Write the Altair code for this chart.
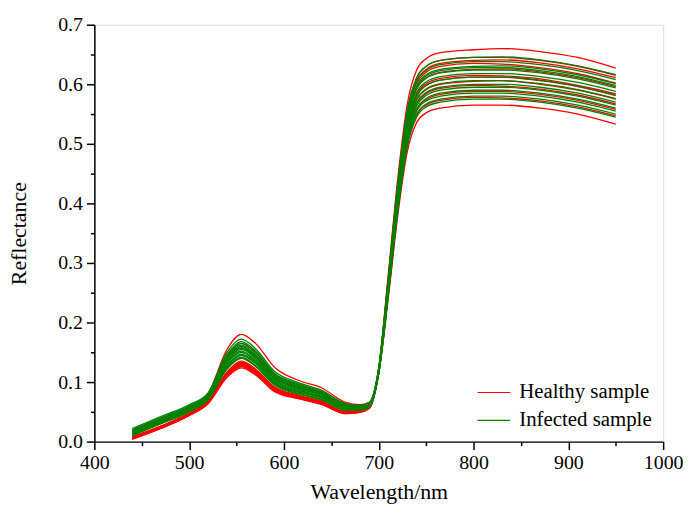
import altair as alt
import pandas as pd

wavelength = [440, 470, 500, 520, 540, 555, 570, 590, 615, 640, 665, 680, 690,
              700, 710, 720, 730, 740, 750, 765, 800, 830, 870, 910, 950]

healthy_curves = [
    [.012, .032, .055, .080, .155, .180, .165, .125, .103, .090, .066, .062, .066,
     .125, .280, .441, .566, .624, .643, .653, .658, .660, .655, .645, .627],
    [.011, .030, .052, .076, .143, .165, .150, .113, .095, .082, .061, .059, .064,
     .115, .240, .379, .486, .536, .552, .560, .565, .565, .560, .550, .533],
    [.008, .026, .047, .068, .117, .135, .122, .092, .078, .068, .051, .052, .058,
     .122, .274, .432, .555, .611, .630, .640, .645, .645, .640, .630, .615],
    [.006, .024, .046, .066, .114, .132, .119, .090, .076, .066, .050, .051, .057,
     .120, .270, .425, .546, .602, .620, .630, .635, .634, .628, .618, .602],
    [.007, .025, .047, .067, .113, .130, .117, .088, .075, .065, .049, .051, .058,
     .121, .266, .419, .538, .593, .611, .620, .625, .626, .621, .611, .596],
    [.005, .023, .045, .065, .111, .128, .115, .087, .074, .064, .048, .050, .056,
     .118, .261, .412, .529, .583, .601, .610, .615, .614, .609, .598, .584],
    [.006, .024, .046, .066, .110, .127, .114, .086, .073, .064, .048, .050, .057,
     .119, .257, .405, .520, .574, .591, .600, .605, .606, .600, .590, .575],
    [.008, .026, .048, .068, .116, .133, .120, .090, .077, .067, .050, .052, .059,
     .117, .254, .401, .514, .567, .584, .593, .598, .597, .592, .582, .567],
    [.004, .022, .044, .064, .112, .129, .116, .088, .075, .065, .049, .050, .056,
     .116, .250, .394, .506, .557, .574, .583, .588, .588, .583, .573, .558],
    [.005, .023, .045, .065, .109, .126, .113, .086, .073, .063, .047, .049, .057,
     .115, .246, .387, .497, .548, .565, .573, .578, .577, .572, .562, .547],
    [.007, .025, .046, .067, .114, .131, .118, .089, .076, .066, .050, .051, .058,
     .121, .272, .429, .550, .607, .625, .635, .640, .641, .636, .626, .611],
    [.004, .022, .044, .064, .108, .124, .112, .084, .072, .062, .047, .049, .056,
     .118, .260, .410, .526, .580, .598, .607, .612, .612, .606, .596, .581],
]

infected_curves = [
    [.022, .042, .062, .082, .150, .172, .156, .118, .099, .086, .064, .061, .066,
     .124, .274, .432, .555, .611, .630, .640, .645, .646, .641, .631, .616],
    [.020, .040, .060, .080, .146, .168, .152, .115, .097, .084, .063, .060, .065,
     .123, .271, .427, .549, .605, .623, .633, .638, .638, .633, .623, .608],
    [.019, .039, .059, .079, .144, .165, .149, .113, .095, .083, .062, .059, .064,
     .122, .268, .422, .542, .597, .616, .625, .630, .631, .626, .616, .601],
    [.018, .038, .058, .078, .141, .162, .146, .111, .093, .081, .061, .058, .063,
     .121, .265, .418, .537, .592, .610, .619, .624, .624, .619, .609, .594],
    [.017, .037, .057, .077, .139, .160, .144, .109, .092, .080, .060, .058, .063,
     .120, .263, .414, .531, .586, .604, .613, .618, .618, .613, .603, .588],
    [.016, .036, .056, .076, .137, .157, .142, .107, .090, .079, .059, .057, .062,
     .119, .260, .410, .526, .580, .598, .607, .612, .612, .607, .597, .582],
    [.015, .035, .055, .075, .135, .155, .140, .106, .089, .078, .058, .057, .062,
     .118, .258, .406, .521, .574, .592, .601, .606, .606, .601, .591, .576],
    [.014, .034, .054, .074, .132, .152, .137, .104, .087, .076, .057, .056, .061,
     .117, .255, .402, .516, .569, .586, .595, .600, .600, .595, .585, .570],
    [.013, .033, .053, .073, .131, .150, .135, .102, .086, .075, .056, .055, .060,
     .117, .253, .399, .512, .564, .581, .590, .595, .595, .590, .580, .565],
    [.012, .032, .052, .072, .128, .147, .133, .100, .084, .074, .055, .055, .060,
     .116, .251, .395, .507, .559, .576, .585, .590, .590, .585, .575, .560],
    [.013, .032, .052, .072, .126, .145, .131, .099, .083, .073, .055, .054, .059,
     .115, .249, .392, .503, .555, .572, .580, .585, .585, .580, .570, .555],
    [.011, .031, .051, .071, .124, .142, .128, .097, .081, .071, .053, .053, .059,
     .115, .247, .389, .499, .550, .567, .575, .580, .580, .575, .565, .550],
    [.010, .030, .050, .070, .122, .140, .126, .095, .080, .070, .053, .053, .058,
     .114, .244, .385, .495, .545, .562, .570, .575, .575, .570, .560, .545],
    [.016, .036, .056, .076, .138, .158, .143, .108, .091, .079, .060, .057, .062,
     .121, .267, .421, .540, .595, .614, .623, .628, .628, .623, .613, .598],
]

groups = ["Healthy sample", "Infected sample"]
colors = ["#ff0000", "#008000"]

rows = []
for gi, curves in enumerate([healthy_curves, infected_curves]):
    for ci, curve in enumerate(curves):
        for w, v in zip(wavelength, curve):
            rows.append({"wl": w, "r": v, "group": groups[gi], "id": f"{gi}-{ci}"})
df = pd.DataFrame(rows)

FONT = "Liberation Serif"

x_axis = alt.Axis(
    values=list(range(400, 1001, 50)),
    labelExpr="datum.value % 100 == 0 ? datum.value : ''",
    tickSize={"condition": {"test": "datum.value % 100 == 0", "value": 8}, "value": 4},
    grid=False, domainColor="black", domainWidth=1.5, tickColor="black", tickWidth=1.5,
    labelFont=FONT, labelFontSize=20, labelColor="black", labelPadding=3,
    labelFlush=False, labelOverlap=False,
    titleFont=FONT, titleFontSize=22, titleFontWeight="normal", titleColor="black",
    titlePadding=9,
)
y_axis = alt.Axis(
    values=[round(i * 0.05, 2) for i in range(15)],
    labelExpr="round(datum.value * 100) % 10 == 0 ? format(datum.value, '.1f') : ''",
    tickSize={"condition": {"test": "round(datum.value * 100) % 10 == 0", "value": 8}, "value": 4},
    grid=False, domainColor="black", domainWidth=1.5, tickColor="black", tickWidth=1.5,
    labelFont=FONT, labelFontSize=20, labelColor="black", labelPadding=4,
    labelFlush=False, labelOverlap=False,
    titleFont=FONT, titleFontSize=22, titleFontWeight="normal", titleColor="black",
    titlePadding=27,
)

color = alt.Color(
    "group:N",
    scale=alt.Scale(domain=groups, range=colors),
    legend=alt.Legend(
        title=None, orient="none", legendX=385, legendY=353,
        symbolType="stroke", symbolSize=1089, symbolStrokeWidth=1.2,
        labelFont=FONT, labelFontSize=21, labelColor="black", labelOffset=8,
        rowPadding=0, padding=0,
    ),
)

base = alt.Chart(df).mark_line(interpolate="monotone", strokeWidth=1.3).encode(
    x=alt.X("wl:Q", title="Wavelength/nm", scale=alt.Scale(domain=[400, 1000], nice=False), axis=x_axis),
    y=alt.Y("r:Q", title="Reflectance", scale=alt.Scale(domain=[0, 0.7], nice=False), axis=y_axis),
    color=color,
    detail="id:N",
)

healthy = base.transform_filter(alt.datum.group == "Healthy sample")
infected = base.transform_filter(alt.datum.group == "Infected sample")

chart = alt.layer(healthy, infected).properties(
    width=573, height=420,
    autosize=alt.AutoSizeParams(type="none"),
    padding={"left": 87, "top": 15, "right": 20, "bottom": 62},
).configure_view(stroke=None).configure(background="white")

chart.save("out.html", embed_options={"renderer": "svg", "actions": False})
